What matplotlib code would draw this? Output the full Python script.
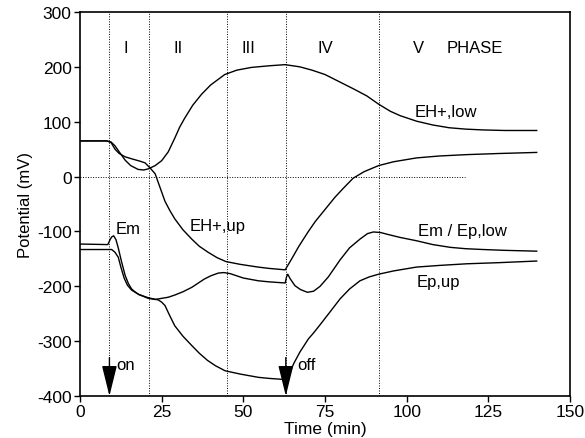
import matplotlib
matplotlib.use('Agg')
import matplotlib.pyplot as plt

plt.rcParams['font.family'] = ['Liberation Sans', 'DejaVu Sans']
plt.rcParams['axes.unicode_minus'] = False

# potential traces (time in min, potential in mV)
eh_low_t = [0, 8.2, 9.5, 10.7, 12, 13.8, 15.5, 17.8, 19.5, 20.9, 23, 25, 27, 29, 30.5,
            32, 34.5, 37.2, 40, 44.3, 48, 52.5, 58, 62.8, 67.3, 71, 75, 80, 84, 87.8,
            91.4, 95, 98, 103, 108, 113, 118, 123.4, 130, 139.8]
eh_low_v = [65, 65, 63, 56, 45, 30, 20, 13, 12, 14, 20, 29, 45, 70, 90,
            106, 130, 150, 167, 186, 194, 199, 202, 204, 200, 194, 186, 171, 159, 147,
            132, 119, 111, 101, 94, 89, 86.5, 85, 84, 84]

eh_up_t = [0, 8.2, 9.5, 10.7, 12, 13.8, 16, 18.4, 19.9, 21.4, 23, 24.5, 26, 27.5, 29,
           31.5, 34.2, 36.5, 39.2, 42, 44.7, 49, 54.5, 58, 62.8, 63.5, 64.8, 67, 69.8,
           72, 75, 78, 80.5, 83.6, 87, 91.4, 96, 103, 110, 118.4, 128, 139.8]
eh_up_v = [65, 65, 62, 50, 42, 36, 32, 28, 25, 16, 5, -20, -45, -62, -77,
           -97, -114, -127, -138, -148, -155, -160, -165, -167.5, -170, -163, -150, -127, -101,
           -82, -60, -38, -22, -3, 9, 20, 27, 34, 37.5, 40, 42, 44]

em_t = [0, 8.5, 9.2, 9.7, 10.3, 11, 11.7, 12.7, 13.8, 14.8, 15.8, 17, 18, 20.9, 23, 25,
        27, 29, 31.5, 34.2, 38, 40, 42.3, 44, 46, 50, 54.6, 58, 62.8, 63.2, 63.6, 64.3,
        65.8, 67.5, 69.6, 71.5, 73.5, 76, 79.6, 82.5, 85.7, 88, 89.8, 92, 93.9, 98, 103,
        108, 113.3, 118, 123.4, 130, 139.8]
em_v = [-123, -124, -115, -110, -108, -115, -130, -155, -180, -195, -205, -211, -215, -222,
        -224, -222, -220, -216, -210, -202, -187, -181, -176, -175, -177, -185, -190, -192,
        -194, -183, -178, -186, -199, -206, -211, -209, -200, -183, -152, -130, -114, -104,
        -101, -102, -105, -111, -117, -124, -129, -131.5, -133, -134.5, -136]

ep_t = [0, 9.7, 10.7, 11.7, 12.5, 13.5, 14.5, 15.8, 18, 20.9, 24, 25, 26, 27.5, 29, 31.5,
        34.2, 36.5, 39, 41.5, 44.4, 49, 54.6, 58, 62.8, 63.5, 64.3, 65.5, 67.3, 69.9, 71.5,
        73.5, 76.5, 79.6, 82.5, 85.7, 88.5, 91.4, 96, 103, 110, 118.4, 128, 139.8]
ep_v = [-133, -133, -138, -147, -165, -185, -198, -207, -215, -221, -225, -229, -235, -254,
        -272, -291, -308, -322, -335, -345, -354, -360, -366, -368, -370, -365, -356, -340,
        -320, -296, -285, -270, -247, -223, -205, -190, -183, -178, -172, -165, -162, -159,
        -157, -154]

phase_bounds = [9, 21, 45, 63, 91.5]
phase_names = ['I', 'II', 'III', 'IV', 'V']
phase_label_x = [14, 30, 51.5, 75, 103.5]

light_on = 9
light_off = 63

fig = plt.figure(figsize=(5.85, 4.39), dpi=100)
ax = fig.add_axes([0.1368, 0.0957, 0.8376, 0.8747])

dot = (0, (1, 1.6))
for b in phase_bounds:
    ax.plot([b, b], [-400, 300], color='black', lw=0.7, ls=dot)
ax.plot([0, 118], [0, 0], color='black', lw=0.7, ls=dot)

for t, v in [(eh_low_t, eh_low_v), (eh_up_t, eh_up_v), (em_t, em_v), (ep_t, ep_v)]:
    ax.plot(t, v, color='black', lw=1.0)

fs = 12
for x, name in zip(phase_label_x, phase_names):
    ax.text(x, 236, name, ha='center', va='center', fontsize=fs)
ax.text(121, 236, 'PHASE', ha='center', va='center', fontsize=fs)

ax.text(112, 118, 'EH+,low', ha='center', va='center', fontsize=fs)
ax.text(42.2, -90, 'EH+,up', ha='center', va='center', fontsize=fs)
ax.text(14.7, -95, 'Em', ha='center', va='center', fontsize=fs)
ax.text(117, -99, 'Em / Ep,low', ha='center', va='center', fontsize=fs)
ax.text(109.6, -192, 'Ep,up', ha='center', va='center', fontsize=fs)
ax.text(11, -342, 'on', ha='left', va='center', fontsize=fs)
ax.text(66.5, -342, 'off', ha='left', va='center', fontsize=fs)

arrow = dict(arrowstyle='-|>,head_length=19,head_width=4.7', mutation_scale=1,
             color='black', lw=1.0, shrinkA=0, shrinkB=0)
for x in (light_on, light_off):
    ax.annotate('', xy=(x, -400), xytext=(x, -330), arrowprops=arrow)

ax.set_xlim(0, 150)
ax.set_ylim(-400, 300)
ax.set_xticks(range(0, 151, 25))
ax.set_yticks(range(-400, 301, 100))
ax.tick_params(direction='out', length=4, width=1, labelsize=12.5, pad=2)
for s in ax.spines.values():
    s.set_linewidth(1.2)
ax.set_xlabel('Time (min)', fontsize=12.5, labelpad=1)
ax.set_ylabel('Potential (mV)', fontsize=12, labelpad=3)

fig.savefig('out.png', dpi=100)
